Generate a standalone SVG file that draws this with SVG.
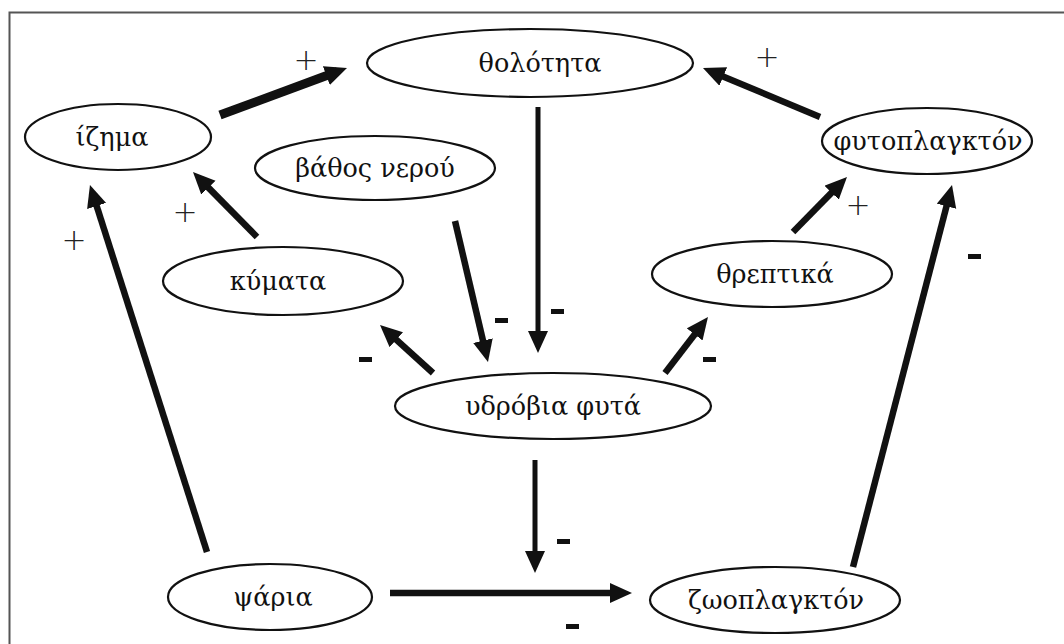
<svg xmlns="http://www.w3.org/2000/svg" width="1064" height="644" viewBox="0 0 1064 644">
<style>
.node ellipse{fill:#fff;stroke:#111;stroke-width:2.2}
.node text{font-family:"DejaVu Serif","Liberation Serif",serif;font-size:25.5px;fill:#111;text-anchor:middle}
.edges line{stroke:#111;stroke-width:6.5;marker-end:url(#ah)}
.plus{font-family:"DejaVu Sans","Liberation Sans",sans-serif;font-size:30px;font-weight:300;fill:#222;text-anchor:middle}
.minus{fill:#111}
</style>
<defs>
<marker id="ah" markerUnits="userSpaceOnUse" markerWidth="24" markerHeight="22" refX="12" refY="10" orient="auto" viewBox="0 0 24 22">
<path d="M0,0 L22,10 L0,20 z" fill="#111"/>
</marker>
</defs>
<rect width="1064" height="644" fill="#fff"/>
<rect x="9.5" y="12.5" width="1100" height="700" fill="none" stroke="#555" stroke-width="2"/>
<g class="edges">
<line x1="220" y1="115" x2="337.6" y2="71.5" style="stroke-width:9"/>
<line x1="820" y1="117" x2="712.2" y2="71.9"/>
<line x1="538" y1="107" x2="538" y2="343" style="stroke-width:5"/>
<line x1="455" y1="221" x2="485.7" y2="352.3"/>
<line x1="257" y1="237" x2="200" y2="179.1"/>
<line x1="207" y1="552" x2="93" y2="194.5"/>
<line x1="433" y1="373" x2="387.4" y2="331.7"/>
<line x1="665" y1="373" x2="701.9" y2="324.9"/>
<line x1="793" y1="232" x2="840" y2="184.1"/>
<line x1="853" y1="567" x2="949.5" y2="194.7"/>
<line x1="535" y1="460" x2="535" y2="563" style="stroke-width:5"/>
<line x1="390" y1="593" x2="622" y2="593"/>
<text class="plus" x="306" y="70">+</text>
<text class="plus" x="767" y="67">+</text>
<text class="plus" x="185" y="222">+</text>
<text class="plus" x="74" y="250">+</text>
<text class="plus" x="858" y="215">+</text>
<rect class="minus" x="551" y="309" width="13" height="5"/>
<rect class="minus" x="495" y="318" width="13" height="5"/>
<rect class="minus" x="359" y="357" width="13" height="5"/>
<rect class="minus" x="703" y="357" width="13" height="5"/>
<rect class="minus" x="968" y="254" width="13" height="5"/>
<rect class="minus" x="557" y="539" width="13" height="5"/>
<rect class="minus" x="566" y="624" width="13" height="5"/>
</g>
<g id="tholotita" class="node"><ellipse cx="530" cy="63" rx="163" ry="34"/><text x="540" y="72">θολότητα</text></g>
<g id="izima" class="node"><ellipse cx="118" cy="137" rx="93" ry="33"/><text x="112" y="146">ίζημα</text></g>
<g id="vathos" class="node"><ellipse cx="375" cy="168" rx="120" ry="32"/><text x="375" y="177">βάθος νερού</text></g>
<g id="kymata" class="node"><ellipse cx="283" cy="281" rx="120" ry="34"/><text x="278" y="290">κύματα</text></g>
<g id="fytoplankton" class="node"><ellipse cx="927" cy="141" rx="105" ry="33"/><text x="928" y="150">φυτοπλαγκτόν</text></g>
<g id="threptika" class="node"><ellipse cx="772" cy="274" rx="120" ry="33"/><text x="775" y="283">θρεπτικά</text></g>
<g id="ydrovia" class="node"><ellipse cx="553" cy="406" rx="158" ry="33"/><text x="553" y="415">υδρόβια φυτά</text></g>
<g id="psaria" class="node"><ellipse cx="270" cy="597" rx="102" ry="33"/><text x="273" y="606">ψάρια</text></g>
<g id="zooplankton" class="node"><ellipse cx="775" cy="600" rx="125" ry="33"/><text x="776" y="609">ζωοπλαγκτόν</text></g>
</svg>
